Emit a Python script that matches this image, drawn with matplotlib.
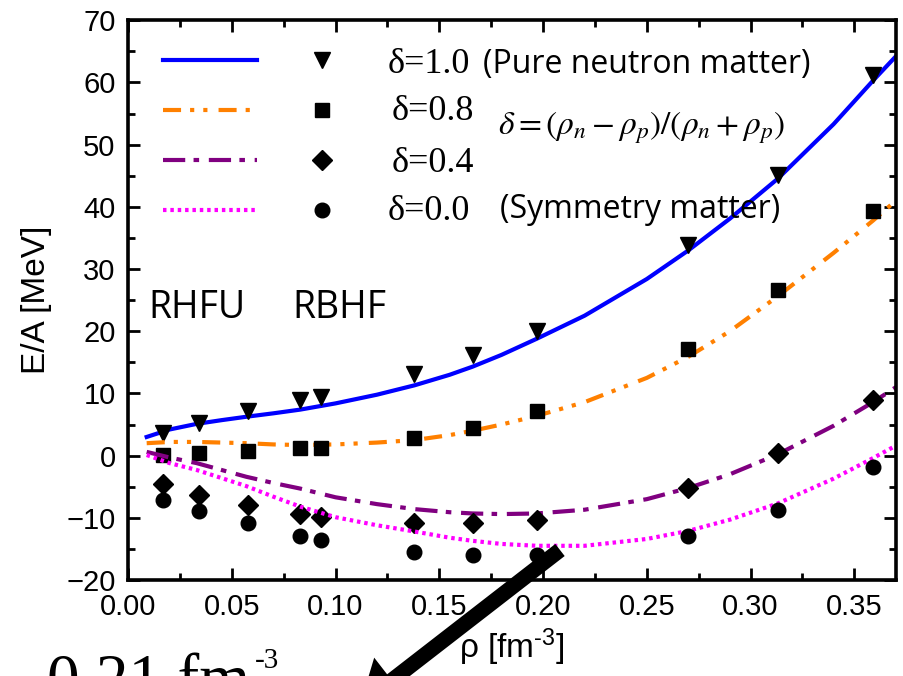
import matplotlib
matplotlib.use('Agg')
import matplotlib.pyplot as plt
from matplotlib.ticker import MultipleLocator

plt.rcParams['font.family'] = ['Liberation Sans', 'DejaVu Sans']
plt.rcParams['mathtext.fontset'] = 'custom'
plt.rcParams['mathtext.rm'] = 'Liberation Sans'
plt.rcParams['mathtext.it'] = 'Liberation Sans:italic'
plt.rcParams['lines.scale_dashes'] = False

# RBHF points (symbols)
rho_pts = [0.017, 0.034, 0.058, 0.083, 0.093, 0.138, 0.166, 0.197, 0.270, 0.313, 0.359]
rbhf_10 = [3.6, 5.3, 7.1, 8.9, 9.4, 13.2, 16.2, 20.0, 33.9, 45.2, 61.2]
rbhf_08 = [0.1, 0.4, 0.7, 1.2, 1.3, 2.8, 4.4, 7.2, 17.2, 26.6, 39.3]
rbhf_04 = [-4.6, -6.3, -7.9, -9.4, -9.8, -10.9, -10.9, -10.4, -5.2, 0.4, 8.9]
rbhf_00 = [-7.1, -8.9, -10.8, -13.0, -13.6, -15.5, -16.0, -16.0, -12.9, -8.7, -1.9]

# RHFU curves
rho_fit = [0.009, 0.02, 0.033, 0.045, 0.057, 0.07, 0.083, 0.1, 0.12, 0.138, 0.155,
           0.166, 0.18, 0.197, 0.22, 0.25, 0.27, 0.29, 0.313, 0.34, 0.359, 0.37]
rhfu_10 = [3.0, 4.2, 5.1, 5.7, 6.25, 6.8, 7.4, 8.4, 9.8, 11.3, 13.0,
           14.3, 16.2, 18.8, 22.5, 28.4, 33.0, 38.1, 44.5, 53.3, 60.3, 64.2]
rhfu_08 = [2.0, 2.2, 2.2, 2.1, 2.0, 1.8, 1.7, 1.8, 2.1, 2.5, 3.3,
           4.0, 5.0, 6.4, 8.6, 12.5, 15.9, 20.0, 25.6, 32.6, 37.8, 41.0]
rhfu_04 = [0.6, -0.3, -1.2, -2.3, -3.4, -4.4, -5.3, -6.7, -7.8, -8.6, -9.1,
           -9.3, -9.4, -9.3, -8.7, -7.0, -5.2, -3.0, 0.2, 4.8, 8.6, 11.0]
rhfu_00 = [0.1, -1.2, -2.3, -3.6, -4.9, -6.6, -8.2, -9.9, -11.2, -12.2, -13.2,
           -13.7, -14.2, -14.5, -14.5, -13.4, -12.1, -10.3, -7.7, -3.7, -0.4, 1.6]

labels = ['δ=1.0', 'δ=0.8', 'δ=0.4', 'δ=0.0']
colors = ['#0000ff', '#ff8000', '#800080', '#ff00ff']
styles = ['-', (0, (13, 6.5, 3, 6.5, 3, 8)), (0, (16, 6, 4, 7)), (0, (2.5, 2.8))]
markers = ['v', 's', 'D', 'o']
msizes = [11, 10, 10.5, 10.5]

curves = [rhfu_10, rhfu_08, rhfu_04, rhfu_00]
points = [rbhf_10, rbhf_08, rbhf_04, rbhf_00]

fig = plt.figure(figsize=(9.04, 6.76), dpi=100)
ax = fig.add_axes([0.1416, 0.142, 0.8494, 0.828])

for i in range(4):
    ax.plot(rho_fit, curves[i], color=colors[i], ls=styles[i], lw=3.0)
    ax.plot(rho_pts, points[i], ls='none', marker=markers[i], ms=msizes[i], color='k')

ax.set_xlim(0, 0.37)
ax.set_ylim(-20, 70)
ax.xaxis.set_major_locator(MultipleLocator(0.05))
ax.xaxis.set_minor_locator(MultipleLocator(0.025))
ax.yaxis.set_major_locator(MultipleLocator(10))
ax.yaxis.set_minor_locator(MultipleLocator(5))
ax.xaxis.set_major_formatter(plt.FormatStrFormatter('%.2f'))
ax.tick_params(which='both', direction='in', top=True, right=True, labelsize=21, width=2)
ax.tick_params(which='major', length=8.5, pad=9)
ax.tick_params(which='minor', length=5)
for s in ax.spines.values():
    s.set_linewidth(2.6)

ax.set_ylabel('E/A [MeV]', fontsize=24, labelpad=10)
ax.set_xlabel(r'ρ [fm$^{\text{-3}}$]', fontsize=24, labelpad=4)

# legend drawn by hand: line sample, symbol, label
rows = [0.9286, 0.8393, 0.75, 0.6607]
for i in range(4):
    ax.plot([0.0456, 0.168], [rows[i], rows[i]], transform=ax.transAxes,
            color=colors[i], ls=styles[i], lw=3.0)
    ax.plot([0.2526], [rows[i]], transform=ax.transAxes, marker=markers[i],
            ms=msizes[i], color='k', ls='none')

W, H = 904.0, 676.0
lab_x = [388, 392, 392, 388]
lab_base = [73, 120, 172, 220]
for i in range(4):
    fig.text(lab_x[i] / W, 1 - lab_base[i] / H, labels[i], fontsize=26,
             family=['Liberation Serif', 'DejaVu Serif'], va='baseline')

fig.text(483 / W, 1 - 73 / H, '(Pure neutron matter)', fontsize=23,
         family='Open Sans', va='baseline')
fig.text(500 / W, 1 - 218 / H, '(Symmetry matter)', fontsize=23,
         family='Open Sans', va='baseline')
fig.text(498 / W, 1 - 135 / H, r'$\delta = (\rho_n - \rho_p)/(\rho_n + \rho_p)$',
         fontsize=24, math_fontfamily='stix', va='baseline')

fig.text(148 / W, 1 - 318 / H, 'RHFU', fontsize=27, family='Open Sans', va='baseline')
fig.text(292 / W, 1 - 318 / H, 'RBHF', fontsize=27, family='Open Sans', va='baseline')

# density marker below the axis
fig.text(47 / W, 1 - 700 / H, '0.21 fm', fontsize=47,
         family='Liberation Serif', va='baseline')
fig.text(255 / W, 1 - 668 / H, '-3', fontsize=21,
         family='Liberation Serif', va='baseline')

ax.annotate('', xy=(360, 676 - 705), xytext=(560, 676 - 550),
            xycoords='figure pixels', textcoords='figure pixels',
            arrowprops=dict(arrowstyle='-|>,head_length=1.4,head_width=1.0',
                            lw=11, color='k', shrinkA=0, shrinkB=0,
                            capstyle='butt', joinstyle='miter'),
            annotation_clip=False, zorder=10)

fig.savefig('out.png', dpi=100)
